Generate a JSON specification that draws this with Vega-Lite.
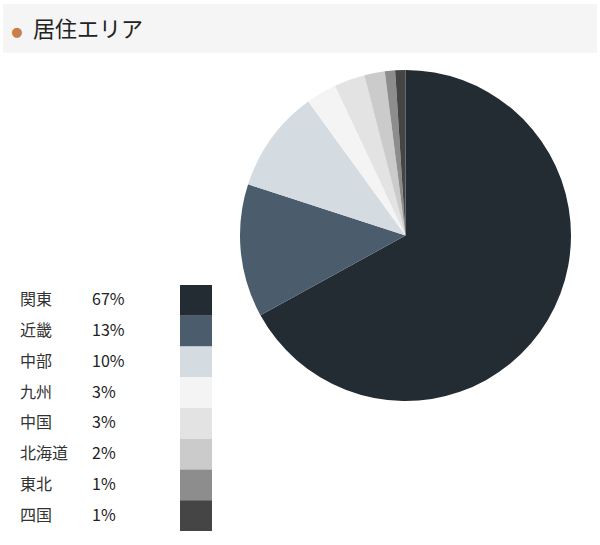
{
  "$schema": "https://vega.github.io/schema/vega-lite/v6.json",
  "padding": {"left": 3, "top": 4, "right": 3, "bottom": 0},
  "background": "white",
  "datasets": {
    "areas": [
      {"area": "関東", "share": 67},
      {"area": "近畿", "share": 13},
      {"area": "中部", "share": 10},
      {"area": "九州", "share": 3},
      {"area": "中国", "share": 3},
      {"area": "北海道", "share": 2},
      {"area": "東北", "share": 1},
      {"area": "四国", "share": 1}
    ]
  },
  "spacing": 17,
  "vconcat": [
    {
      "width": 594,
      "height": 49,
      "data": {"values": [{"dot": "●", "label": "居住エリア"}]},
      "layer": [
        {"mark": {"type": "rect", "color": "#f5f5f5"}},
        {
          "mark": {"type": "text", "align": "center", "baseline": "middle", "dy": 3, "font": "DejaVu Sans", "fontSize": 13, "color": "#c8804a"},
          "encoding": {
            "x": {
              "datum": "dot",
              "type": "nominal",
              "axis": null,
              "scale": {"type": "point", "domain": ["dot", "label"], "range": [14, 30], "padding": 0}
            },
            "text": {"field": "dot"}
          }
        },
        {
          "mark": {"type": "text", "align": "left", "baseline": "middle", "dy": 1, "fontSize": 22, "color": "#222222"},
          "encoding": {
            "x": {"datum": "label", "type": "nominal", "axis": null},
            "text": {"field": "label"}
          }
        }
      ]
    },
    {
      "spacing": 27,
      "hconcat": [
        {
          "width": 210,
          "height": 461,
          "data": {"name": "areas"},
          "transform": [{"calculate": "datum.share + '%'", "as": "label"}],
          "encoding": {
            "y": {
              "field": "area",
              "type": "nominal",
              "sort": null,
              "axis": null,
              "scale": {"range": [215, 461], "paddingInner": 0, "paddingOuter": 0}
            }
          },
          "layer": [
            {
              "mark": {"type": "text", "align": "left", "baseline": "middle", "fontSize": 16, "color": "#333333"},
              "encoding": {
                "x": {
                  "datum": "name",
                  "type": "nominal",
                  "bandPosition": 0.5,
                  "axis": null,
                  "scale": {"domain": ["name", "pct", "swatch"], "paddingInner": 0.63636, "paddingOuter": 0.011364}
                },
                "text": {"field": "area"}
              }
            },
            {
              "mark": {"type": "text", "align": "left", "baseline": "middle", "fontSize": 16, "color": "#222222"},
              "encoding": {
                "x": {"datum": "pct", "type": "nominal", "bandPosition": 0, "axis": null},
                "text": {"field": "label"}
              }
            },
            {
              "mark": {"type": "rect"},
              "encoding": {
                "x": {"datum": "swatch", "type": "nominal", "axis": null},
                "color": {
                  "field": "area",
                  "type": "nominal",
                  "legend": null,
                  "scale": {
                    "domain": ["関東", "近畿", "中部", "九州", "中国", "北海道", "東北", "四国"],
                    "range": ["#232b33", "#4b5c6d", "#d4dbe1", "#f4f4f4", "#e3e3e3", "#cbcbcb", "#8d8d8d", "#454545"]
                  }
                }
              }
            }
          ]
        },
        {
          "width": 331,
          "height": 331,
          "data": {"name": "areas"},
          "mark": {"type": "arc"},
          "encoding": {
            "theta": {"field": "share", "type": "quantitative", "stack": true},
            "order": {"field": "share", "type": "quantitative", "sort": "descending"},
            "color": {
              "field": "area",
              "type": "nominal",
              "legend": null,
              "scale": {
                "domain": ["関東", "近畿", "中部", "九州", "中国", "北海道", "東北", "四国"],
                "range": ["#232b33", "#4b5c6d", "#d4dbe1", "#f4f4f4", "#e3e3e3", "#cbcbcb", "#8d8d8d", "#454545"]
              }
            }
          }
        }
      ]
    }
  ],
  "config": {
    "view": {"stroke": null},
    "font": "Noto Sans CJK JP"
  }
}
